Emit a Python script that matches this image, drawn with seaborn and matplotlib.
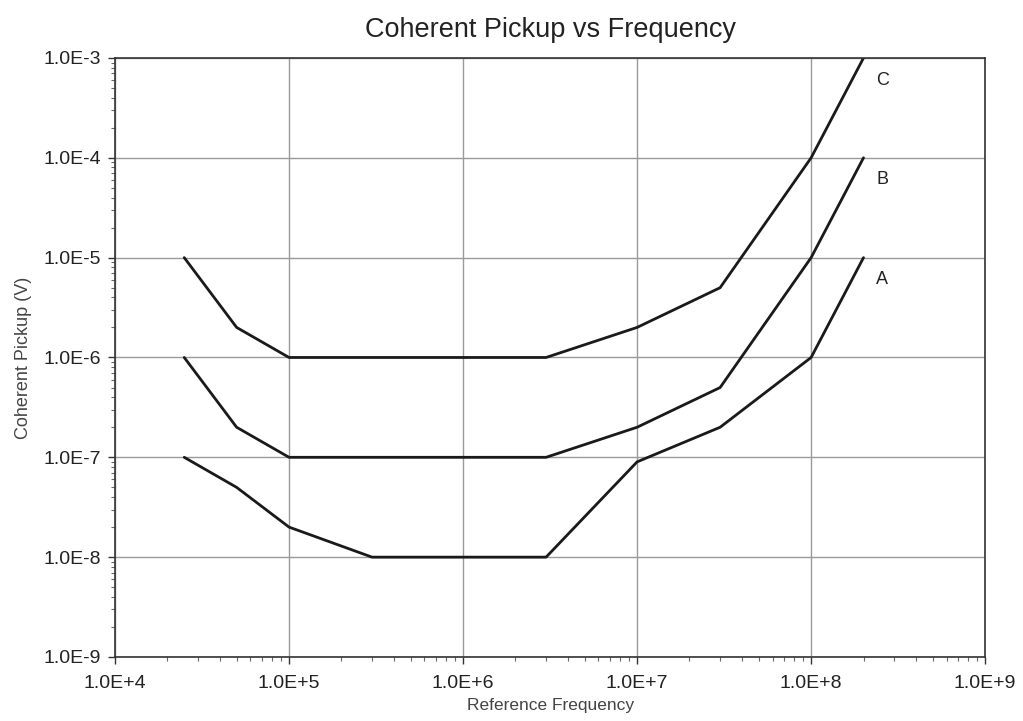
import numpy as np
import pandas as pd
import seaborn as sns
import matplotlib
matplotlib.use("Agg")
import matplotlib.pyplot as plt
from matplotlib.ticker import FuncFormatter, LogLocator

# values
freq_c = [2.5e4, 5e4, 1e5, 3e6, 1e7, 3e7, 1e8, 2e8]
pick_c = [1e-5, 2e-6, 1e-6, 1e-6, 2e-6, 5e-6, 1e-4, 1e-3]

freq_b = [2.5e4, 5e4, 1e5, 3e6, 1e7, 3e7, 1e8, 2e8]
pick_b = [1e-6, 2e-7, 1e-7, 1e-7, 2e-7, 5e-7, 1e-5, 1e-4]

freq_a = [2.5e4, 5e4, 1e5, 3e5, 3e6, 1e7, 3e7, 1e8, 2e8]
pick_a = [1e-7, 5e-8, 2e-8, 1e-8, 1e-8, 9e-8, 2e-7, 1e-6, 1e-5]

curve_names = ["C", "B", "A"]

sns.set_style("white")
plt.rcParams["font.family"] = ["Liberation Sans", "DejaVu Sans"]

fig = plt.figure(figsize=(10.23, 7.21), dpi=100)
ax = fig.add_axes([0.1124, 0.0888, 0.8506, 0.8308])

for name, fx, py in zip(curve_names, [freq_c, freq_b, freq_a], [pick_c, pick_b, pick_a]):
    d = pd.DataFrame({"f": fx, "v": py})
    sns.lineplot(data=d, x="f", y="v", ax=ax, color="#1a1a1a", linewidth=2.0,
                 sort=False, estimator=None)
    ax.text(fx[-1] * 1.18, py[-1] * 0.6, name, fontsize=13, color="#222222",
            ha="left", va="center")

ax.set_xscale("log")
ax.set_yscale("log")
ax.set_xlim(1e4, 1e9)
ax.set_ylim(1e-9, 1e-3)

fmt = FuncFormatter(lambda v, p: "1.0E%+d" % round(np.log10(v)) if v >= 1 else "1.0E%d" % round(np.log10(v)))
ax.xaxis.set_major_formatter(fmt)
ax.yaxis.set_major_formatter(fmt)
ax.xaxis.set_major_locator(LogLocator(base=10, numticks=20))
ax.yaxis.set_major_locator(LogLocator(base=10, numticks=20))
ax.xaxis.set_minor_locator(LogLocator(base=10, subs=np.arange(2, 10), numticks=20))
ax.yaxis.set_minor_locator(LogLocator(base=10, subs=np.arange(2, 10), numticks=20))
ax.xaxis.set_minor_formatter(plt.NullFormatter())
ax.yaxis.set_minor_formatter(plt.NullFormatter())

ax.grid(True, which="major", color="#9a9a9a", linewidth=1.0)
ax.tick_params(which="major", direction="out", length=5, width=1, colors="#333333",
               labelsize=14, labelcolor="#222222", bottom=True, left=True, pad=5)
ax.tick_params(axis="x", which="major", pad=8)
ax.tick_params(which="minor", direction="out", length=3, width=0.8, colors="#666666",
               bottom=True, left=True)
for s in ax.spines.values():
    s.set_color("#333333")
    s.set_linewidth(1.2)

ax.set_title("Coherent Pickup vs Frequency", fontsize=19.5, color="#222222", pad=15)
ax.set_xlabel("Reference Frequency", fontsize=12.5, color="#444444", labelpad=4)
ax.set_ylabel("Coherent Pickup (V)", fontsize=13, color="#444444", labelpad=8)

fig.savefig("out.png", dpi=100)
